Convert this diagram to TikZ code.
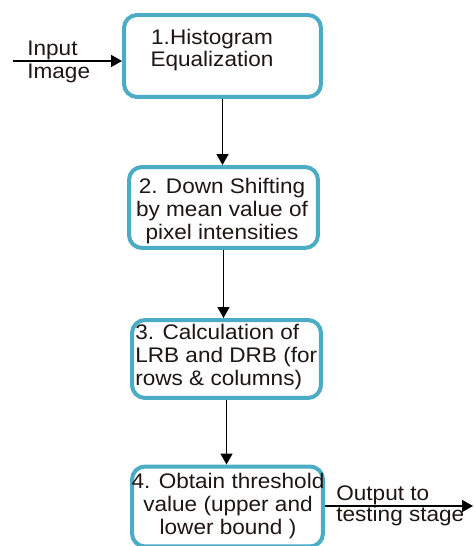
\documentclass[tikz,border=0pt]{standalone}
\usepackage{fontspec}
\setmainfont[FakeStretch=1.07]{Liberation Sans}
\usepackage{xcolor}
\usetikzlibrary{arrows.meta}
\definecolor{boxteal}{RGB}{75,172,198}
\definecolor{textdark}{RGB}{30,22,20}

\begin{document}
\begin{tikzpicture}[x=0.02cm,y=-0.02cm,
    stage/.style={draw=boxteal,line width=0.08cm,rounded corners=0.26cm,fill=white},
    txt/.style={inner sep=0pt,text=textdark,font=\fontsize{12}{13.3}\selectfont},
    arr/.style={line width=0.03cm,-{Triangle[length=0.22cm,width=0.24cm]}}]
\useasboundingbox (0,0) rectangle (473,546);

% boxes
\node[stage,minimum width=3.94cm,minimum height=1.64cm] (b1) at (222.5,56) {};
\node[stage,minimum width=3.78cm,minimum height=1.62cm] (b2) at (223.5,207.5) {};
\node[stage,minimum width=3.78cm,minimum height=1.56cm] (b3) at (226.5,359) {};
\node[stage,minimum width=3.82cm,minimum height=1.6cm] (b4) at (227.5,506.5) {};

% texts
\node[txt,align=center,font=\fontsize{12}{12.2}\selectfont] (t1) at (212,50) {1.Histogram\\Equalization};
\node[txt,align=center] (t2) at (222,211) {2. Down Shifting\\by mean value of\\pixel intensities};
\node[txt,align=left,anchor=west] (t3) at (135,357) {3. Calculation of\\LRB and DRB (for\\rows \& columns)};
\node[txt,align=center] (t4) at (228,506) {4. Obtain threshold\\value (upper and\\lower bound )};
\node[txt,align=left,anchor=west,font=\fontsize{12}{12.8}\selectfont] (inp) at (27,62) {Input\\Image};
\node[txt,align=left,anchor=west,font=\fontsize{12}{12.2}\selectfont] (outp) at (336,506) {Output to\\testing stage};

% arrows
\coordinate (src) at (13,61);
\coordinate (dst) at (473,506);
\draw[arr] (src) -- (b1.west |- src);
\draw[arr] (b1.south) -- (b1.south |- b2.north);
\draw[arr] (b2.south) -- (b2.south |- b3.north);
\draw[arr] (b3.south) -- (b3.south |- b4.north);
\draw[arr] (b4.east |- dst) -- (dst);
\end{tikzpicture}
\end{document}
